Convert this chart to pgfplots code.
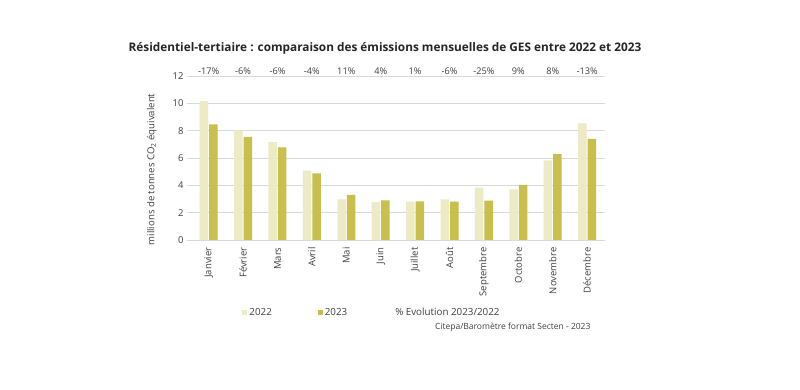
\documentclass[border=0pt]{standalone}
\usepackage{fontspec}
\setmainfont{Open Sans}
\usepackage{pgfplots}
\pgfplotsset{compat=1.18}
\definecolor{c22}{HTML}{EDEAC6}
\definecolor{c23}{HTML}{C8BF4C}
\definecolor{gridc}{HTML}{D9D9D9}
\definecolor{txt}{HTML}{404040}
\begin{document}
\begin{tikzpicture}
\path[use as bounding box, fill=white] (0pt,0pt) rectangle (800pt,390pt);
\begin{axis}[
  at={(187pt,150pt)}, anchor=south west,
  scale only axis, width=418pt, height=164pt,
  ybar=1pt, bar width=8.5pt,
  xmin=-0.63, xmax=11.52, ymin=0, ymax=12,
  ytick={0,2,...,12},
  xtick={0,...,11},
  xticklabels={Janvier,Février,Mars,Avril,Mai,Juin,Juillet,Août,Septembre,Octobre,Novembre,Décembre},
  x tick label style={rotate=90, anchor=east, font=\fontsize{9.5}{11}\selectfont, text=txt},
  xticklabel shift=4pt,
  y tick label style={font=\fontsize{9.5}{11}\selectfont, text=txt},
  /pgf/number format/assume math mode=true,
  major tick length=0pt,
  axis line style={draw=none},
  ymajorgrids, grid style={gridc, line width=0.9pt},
  ylabel={millions de tonnes CO\textsubscript{2} équivalent},
  ylabel style={at={(axis description cs:-0.084,0.43)}, anchor=center, font=\fontsize{9.6}{11}\selectfont, text=txt},
  legend columns=3,
  legend style={at={(0.125,-0.39)}, anchor=north west, draw=none, fill=none,
    font=\fontsize{9.8}{11}\selectfont, text=txt,
    /tikz/every even column/.append style={column sep=44pt}},
  clip=false,
]
\addplot[fill=c22, draw=none, legend image code/.code={\fill[c22] (0pt,-2.5pt) rectangle (5pt,2.5pt);}] coordinates {
(0,10.17) (1,8.02) (2,7.17) (3,5.07) (4,2.98) (5,2.78) (6,2.80) (7,2.98) (8,3.83) (9,3.71) (10,5.83) (11,8.54)};
\addplot[fill=c23, draw=none, legend image code/.code={\fill[c23] (0pt,-2.5pt) rectangle (5pt,2.5pt);}] coordinates {
(0,8.46) (1,7.54) (2,6.78) (3,4.87) (4,3.31) (5,2.90) (6,2.83) (7,2.80) (8,2.88) (9,4.04) (10,6.28) (11,7.40)};
\addlegendentry{2022}
\addlegendentry{2023}
\addlegendimage{empty legend}
\addlegendentry{\% Evolution 2023/2022}
\foreach \i/\p in {0/-17\%,1/-6\%,2/-6\%,3/-4\%,4/11\%,5/4\%,6/1\%,7/-6\%,8/-25\%,9/9\%,10/8\%,11/-13\%}{
  \edef\tmp{\noexpand\node[anchor=south, inner sep=1.5pt, font=\noexpand\fontsize{9.2}{10}\noexpand\selectfont, text=txt] at (axis cs:\i,12) {\p};}
  \tmp
}
\end{axis}
\node[anchor=center, font=\bfseries\fontsize{11.8}{13}\selectfont, text=black!85] at (385pt,342pt) {Résidentiel-tertiaire : comparaison des émissions mensuelles de GES entre 2022 et 2023};
\node[anchor=east, font=\fontsize{8.5}{10}\selectfont, text=txt] at (594pt,63pt) {Citepa/Baromètre format Secten - 2023};
\end{tikzpicture}
\end{document}
